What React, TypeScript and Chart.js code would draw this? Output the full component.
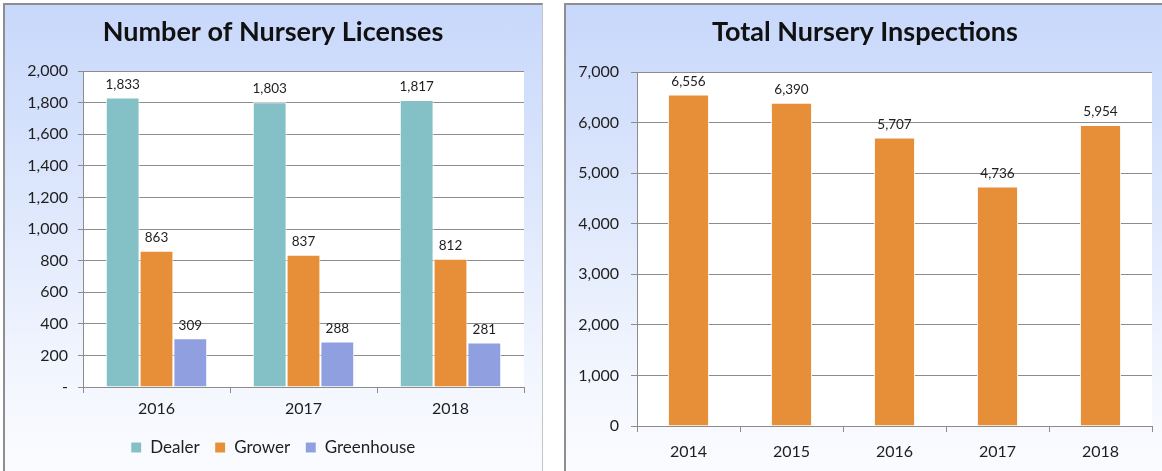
import React, { useEffect, useRef } from "react";
import { Chart, registerables } from "chart.js";

Chart.register(...registerables);

const licenseYears = ["2016", "2017", "2018"];
const dealerLicenses = [1833, 1803, 1817];
const growerLicenses = [863, 837, 812];
const greenhouseLicenses = [309, 288, 281];

const inspectionYears = ["2014", "2015", "2016", "2017", "2018"];
const inspectionTotals = [6556, 6390, 5707, 4736, 5954];

const FONT = "Lato, 'Open Sans', 'Noto Sans', sans-serif";
const GRID = "#8c8c8c";
const TEXT = "#1e1e1e";

const plotBg = {
  id: "plotBg",
  beforeDraw(chart: any) {
    const { ctx, chartArea } = chart;
    if (!chartArea) return;
    ctx.save();
    ctx.fillStyle = "#ffffff";
    ctx.fillRect(chartArea.left, chartArea.top, chartArea.right - chartArea.left, chartArea.bottom - chartArea.top);
    ctx.restore();
  },
};

const valueLabels = {
  id: "valueLabels",
  afterDatasetsDraw(chart: any) {
    const { ctx } = chart;
    ctx.save();
    ctx.font = `13.5px ${FONT}`;
    ctx.fillStyle = TEXT;
    ctx.textAlign = "center";
    ctx.textBaseline = "middle";
    chart.data.datasets.forEach((ds: any, i: number) => {
      const meta = chart.getDatasetMeta(i);
      meta.data.forEach((bar: any, j: number) => {
        const v = ds.data[j] as number;
        ctx.fillText(v.toLocaleString("en-US"), bar.x, bar.y - 13);
      });
    });
    ctx.restore();
  },
};

function LicensesChart() {
  const ref = useRef<HTMLCanvasElement>(null);
  useEffect(() => {
    const chart = new Chart(ref.current!, {
      type: "bar",
      data: {
        labels: licenseYears,
        datasets: [
          { label: "Dealer", data: dealerLicenses, backgroundColor: "#84c1c6", borderColor: "#ffffff", borderWidth: 1 },
          { label: "Grower", data: growerLicenses, backgroundColor: "#e78e38", borderColor: "#ffffff", borderWidth: 1 },
          { label: "Greenhouse", data: greenhouseLicenses, backgroundColor: "#909fe0", borderColor: "#ffffff", borderWidth: 1 },
        ],
      },
      options: {
        responsive: false,
        animation: false,
        layout: { padding: { left: 22, right: 24, top: 0, bottom: 5 } },
        datasets: { bar: { categoryPercentage: 0.69, barPercentage: 1 } },
        plugins: {
          title: {
            display: true,
            text: "Number of Nursery Licenses",
            color: "#111",
            font: { family: FONT, size: 27, weight: "bold", lineHeight: 1.2 },
            padding: { top: 16, bottom: 22.6 },
          },
          legend: {
            position: "bottom",
            labels: {
              color: TEXT,
              font: { family: FONT, size: 17 },
              boxWidth: 11,
              boxHeight: 11,
              padding: 15,
            },
          },
          tooltip: { enabled: false },
        },
        scales: {
          x: {
            grid: { display: true, drawOnChartArea: false, drawTicks: true, tickLength: 6, color: GRID, offset: true },
            border: { color: GRID },
            ticks: { color: TEXT, font: { family: FONT, size: 16 }, padding: 6 },
            afterFit: (s: any) => { s.height = 37; },
          },
          y: {
            min: 0,
            max: 2000,
            grid: { color: GRID, tickLength: 5 },
            border: { color: GRID },
            ticks: {
              stepSize: 200,
              color: TEXT,
              font: { family: FONT, size: 16 },
              padding: 10,
              callback: (v: any) => (v === 0 ? "-" : Number(v).toLocaleString("en-US")),
            },
            afterFit: (s: any) => { s.width = 61; },
          },
        },
      },
      plugins: [plotBg, valueLabels],
    } as any);
    return () => chart.destroy();
  }, []);
  return <canvas ref={ref} width={548} height={471} style={{ width: 548, height: 471, display: "block" }} />;
}

function InspectionsChart() {
  const ref = useRef<HTMLCanvasElement>(null);
  useEffect(() => {
    const chart = new Chart(ref.current!, {
      type: "bar",
      data: {
        labels: inspectionYears,
        datasets: [
          { label: "Inspections", data: inspectionTotals, backgroundColor: "#e78e38", borderColor: "#ffffff", borderWidth: 1 },
        ],
      },
      options: {
        responsive: false,
        animation: false,
        layout: { padding: { left: 10, right: 10, top: 0, bottom: 0 } },
        datasets: { bar: { categoryPercentage: 1, barPercentage: 0.4 } },
        plugins: {
          title: {
            display: true,
            text: "Total Nursery Inspections",
            color: "#111",
            font: { family: FONT, size: 27, weight: "bold", lineHeight: 1.2 },
            padding: { top: 16, bottom: 23.6 },
          },
          legend: { display: false },
          tooltip: { enabled: false },
        },
        scales: {
          x: {
            grid: { display: true, drawOnChartArea: false, drawTicks: true, tickLength: 6, color: GRID, offset: true },
            border: { color: GRID },
            ticks: { color: TEXT, font: { family: FONT, size: 16 }, padding: 10 },
            afterFit: (s: any) => { s.height = 45; },
          },
          y: {
            min: 0,
            max: 7000,
            grid: { color: GRID, tickLength: 6 },
            border: { color: GRID },
            ticks: {
              stepSize: 1000,
              color: TEXT,
              font: { family: FONT, size: 16 },
              padding: 12,
              callback: (v: any) => Number(v).toLocaleString("en-US"),
            },
            afterFit: (s: any) => { s.width = 59; },
          },
        },
      },
      plugins: [plotBg, valueLabels],
    } as any);
    return () => chart.destroy();
  }, []);
  return <canvas ref={ref} width={594} height={471} style={{ width: 594, height: 471, display: "block" }} />;
}

const panelBg = "linear-gradient(to bottom, #c8d8fb 0%, #dde7fc 40%, #f4f7fe 80%, #fbfcff 100%)";

export default function App() {
  return (
    <div style={{ position: "absolute", left: 0, top: 0, width: 1162, height: 471, overflow: "hidden", background: "#ffffff" }}>
      <div
        style={{
          position: "absolute",
          left: 3,
          top: 3,
          width: 537,
          height: 480,
          background: panelBg,
          borderLeft: "2px solid #8e8e8e",
          borderTop: "2px solid #8e8e8e",
          borderRight: "1px solid #c4c4c4",
        }}
      />
      <div
        style={{
          position: "absolute",
          left: 564,
          top: 3,
          width: 620,
          height: 480,
          background: panelBg,
          borderLeft: "2px solid #8e8e8e",
          borderTop: "2px solid #8e8e8e",
        }}
      />
      <div style={{ position: "absolute", left: 0, top: 0 }}>
        <LicensesChart />
      </div>
      <div style={{ position: "absolute", left: 568, top: 0 }}>
        <InspectionsChart />
      </div>
    </div>
  );
}
